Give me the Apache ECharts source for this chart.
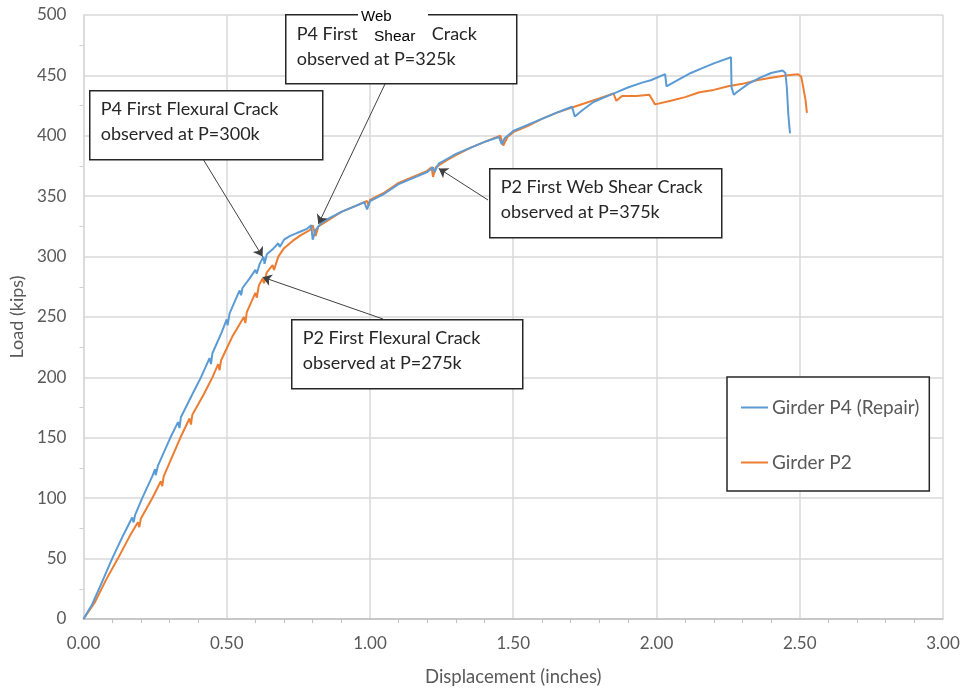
<!DOCTYPE html>
<html>
<head>
<meta charset="utf-8">
<script src="https://cdn.jsdelivr.net/npm/echarts@6/dist/echarts.min.js"></script>
<style>
  body { margin: 0; background: #fff; }
  #chart { width: 965px; height: 692px; }
</style>
</head>
<body>
<div id="chart"></div>
<script>
// displacement (in) / load (kips)
var p4Disp = [0, 0.03, 0.06, 0.10, 0.14, 0.17, 0.175, 0.18, 0.205, 0.24, 0.25, 0.252, 0.26, 0.303, 0.33, 0.335, 0.34, 0.38, 0.41, 0.44, 0.445, 0.45, 0.48, 0.50, 0.503, 0.51, 0.53, 0.545, 0.55, 0.555, 0.58, 0.60, 0.605, 0.615, 0.628, 0.632, 0.64, 0.66, 0.68, 0.685, 0.70, 0.72, 0.74, 0.76, 0.78, 0.795, 0.80, 0.81, 0.83, 0.86, 0.90, 0.94, 0.98, 0.99, 1.00, 1.05, 1.10, 1.15, 1.20, 1.22, 1.225, 1.24, 1.27, 1.30, 1.35, 1.40, 1.45, 1.46, 1.47, 1.50, 1.55, 1.60, 1.65, 1.705, 1.715, 1.74, 1.78, 1.82, 1.86, 1.90, 1.95, 1.98, 2.03, 2.035, 2.04, 2.08, 2.12, 2.16, 2.20, 2.26, 2.262, 2.27, 2.28, 2.32, 2.36, 2.40, 2.44, 2.45, 2.455, 2.46, 2.466];
var p4Load = [0, 12, 28, 50, 70, 84, 80, 86, 100, 118, 124, 119, 127, 150, 163, 158, 167, 186, 200, 216, 211, 220, 236, 248, 243, 253, 264, 272, 268, 274, 282, 289, 286, 294, 300, 294, 302, 306, 311, 308, 314, 317, 319, 321, 323, 326, 314, 322, 328, 332, 337, 341, 345, 339, 346, 352, 360, 365, 370, 374, 370, 377, 381, 385, 390, 395, 399, 393, 398, 404, 409, 414, 419, 424, 416, 421, 428, 432, 436, 440, 444, 446, 451, 441, 441, 447, 452, 456, 460, 465, 440, 434, 436, 443, 448, 452, 454, 452, 440, 418, 402];

var p2Disp = [0, 0.04, 0.08, 0.12, 0.16, 0.19, 0.195, 0.20, 0.24, 0.27, 0.275, 0.28, 0.338, 0.37, 0.375, 0.38, 0.42, 0.45, 0.47, 0.475, 0.48, 0.52, 0.56, 0.565, 0.57, 0.60, 0.605, 0.612, 0.625, 0.63, 0.64, 0.66, 0.665, 0.68, 0.70, 0.73, 0.76, 0.79, 0.80, 0.81, 0.82, 0.86, 0.90, 0.95, 0.99, 0.995, 1.00, 1.05, 1.10, 1.15, 1.20, 1.215, 1.22, 1.23, 1.27, 1.30, 1.35, 1.40, 1.455, 1.465, 1.48, 1.50, 1.55, 1.60, 1.65, 1.70, 1.75, 1.80, 1.85, 1.86, 1.88, 1.93, 1.975, 1.995, 2.05, 2.10, 2.15, 2.20, 2.25, 2.30, 2.35, 2.40, 2.45, 2.494, 2.505, 2.51, 2.52, 2.525];
var p2Load = [0, 14, 33, 50, 68, 80, 76, 83, 100, 114, 110, 118, 150, 166, 161, 169, 186, 200, 211, 206, 214, 234, 250, 245, 254, 270, 266, 276, 282, 278, 287, 293, 289, 300, 307, 313, 318, 322, 326, 317, 325, 331, 337, 342, 346, 342, 347, 353, 361, 366, 371, 374, 366, 374, 380, 384, 390, 395, 400, 392, 399, 403, 408, 414, 419, 423, 427, 431, 435, 429, 433, 433, 434, 426, 429, 432, 436, 438, 441, 443, 446, 448, 450, 451, 449, 443, 430, 419];

var seriesNames = ["Girder P4 (Repair)", "Girder P2"];

// arrow tips of the call-outs (displacement, load)
var tipP4Flex = [0.625, 300];
var tipP4Web = [0.82, 327];
var tipP2Web = [1.24, 373];
var tipP2Flex = [0.625, 283];

function pairs(xs, ys) {
  return xs.map(function (x, i) { return [x, ys[i]]; });
}

var labelFont = "Lato, 'Open Sans', sans-serif";
var grey = "#595959";

function boxText(x, y, text) {
  return {
    type: "text",
    x: x,
    y: y,
    z: 101,
    style: { text: text, font: "18px " + labelFont, fill: "#262626", lineHeight: 25 }
  };
}

function callout(left, top, w, h, texts) {
  return {
    type: "group",
    left: left,
    top: top,
    z: 100,
    children: [
      {
        type: "rect",
        z: 100,
        shape: { x: 0, y: 0, width: w, height: h },
        style: { fill: "#fff", stroke: "#262626", lineWidth: 1.5 }
      }
    ].concat(texts)
  };
}

var chart = echarts.init(document.getElementById("chart"));

var arrowStyle = { color: "#404040", width: 1, type: "solid" };

var option = {
  animation: false,
  grid: { left: 83, right: 22, top: 15, bottom: 73, containLabel: false },
  xAxis: {
    type: "value",
    min: 0,
    max: 3,
    interval: 0.5,
    name: "Displacement (inches)",
    nameLocation: "middle",
    nameGap: 49,
    nameTextStyle: { color: grey, fontSize: 18.5, fontFamily: labelFont },
    axisLine: { show: true, lineStyle: { color: "#bfbfbf", width: 1.5 } },
    axisTick: { show: false },
    minorTick: { show: true, splitNumber: 5, length: 4, lineStyle: { color: "#bfbfbf" } },
    axisLabel: {
      color: grey, fontSize: 17, fontFamily: labelFont, margin: 16,
      formatter: function (v) { return v.toFixed(2); }
    },
    splitLine: { show: true, lineStyle: { color: "#d9d9d9", width: 1.5 } }
  },
  yAxis: {
    type: "value",
    min: 0,
    max: 500,
    interval: 50,
    name: "Load (kips)",
    nameLocation: "middle",
    nameGap: 56,
    nameRotate: 90,
    nameTextStyle: { color: grey, fontSize: 18, fontFamily: labelFont },
    axisLine: { show: true, lineStyle: { color: "#d9d9d9", width: 1.5 } },
    axisTick: { show: false },
    minorTick: { show: true, splitNumber: 2, length: 4, lineStyle: { color: "#d0d0d0" } },
    axisLabel: { color: grey, fontSize: 17, fontFamily: labelFont, margin: 17 },
    splitLine: { show: true, lineStyle: { color: "#d9d9d9", width: 1.5 } }
  },
  legend: {
    orient: "vertical",
    left: 727,
    top: 377,
    data: seriesNames,
    icon: "rect",
    padding: [21, 10, 19, 14],
    itemGap: 36,
    itemWidth: 27,
    itemHeight: 2,
    borderColor: "#262626",
    borderWidth: 1.5,
    backgroundColor: "#fff",
    textStyle: { color: grey, fontSize: 19, fontFamily: labelFont, padding: [0, 0, 0, -1] }
  },
  series: [
    {
      name: seriesNames[0],
      type: "line",
      symbol: "none",
      z: 3,
      lineStyle: { color: "#5b9bd5", width: 2 },
      itemStyle: { color: "#5b9bd5" },
      data: pairs(p4Disp, p4Load),
      markLine: {
        silent: true,
        symbol: ["none", "arrow"],
        symbolSize: 9,
        label: { show: false },
        lineStyle: arrowStyle,
        data: [
          [{ x: 203, y: 159 }, { coord: tipP4Flex }],
          [{ x: 385, y: 84 }, { coord: tipP4Web }],
          [{ x: 488, y: 200 }, { coord: tipP2Web }],
          [{ x: 383, y: 319 }, { coord: tipP2Flex }]
        ]
      }
    },
    {
      name: seriesNames[1],
      type: "line",
      symbol: "none",
      z: 2,
      lineStyle: { color: "#ed7d31", width: 2 },
      itemStyle: { color: "#ed7d31" },
      data: pairs(p2Disp, p2Load)
    }
  ],
  graphic: [
    callout(89, 90, 233, 69, [boxText(11, 6, "P4 First Flexural Crack\nobserved at P=300k")]),
    callout(285, 14, 231, 69, [
      boxText(11, 7, "P4 First\nobserved at P=325k"),
      boxText(146, 7, "Crack")
    ]),
    {
      type: "rect",
      left: 358,
      top: 5,
      z: 102,
      shape: { x: 0, y: 0, width: 70, height: 40 },
      style: { fill: "#fff" }
    },
    {
      type: "text",
      left: 361,
      top: 9,
      z: 103,
      style: { text: "Web", font: "15px 'Liberation Sans', Arial, sans-serif", fill: "#000" }
    },
    {
      type: "text",
      left: 374,
      top: 29,
      z: 103,
      style: { text: "Shear", font: "15.5px 'Liberation Sans', Arial, sans-serif", fill: "#000" }
    },
    callout(489, 168, 232, 69, [boxText(11, 6, "P2 First Web Shear Crack\nobserved at P=375k")]),
    callout(291, 319, 231, 69, [boxText(11, 6, "P2 First Flexural Crack\nobserved at P=275k")])
  ]
};

chart.setOption(option);
</script>
</body>
</html>
